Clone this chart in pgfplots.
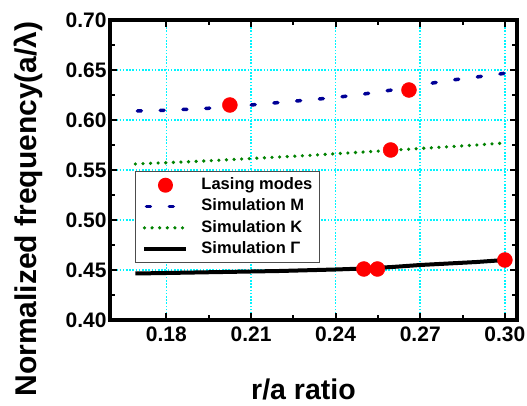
\documentclass[border=0pt]{standalone}
\usepackage{fontspec}
\setmainfont{Liberation Sans}
\usepackage{pgfplots}
\pgfplotsset{compat=1.18}

\definecolor{simM}{RGB}{0,0,150}
\definecolor{simK}{RGB}{0,130,0}
\definecolor{gridcyan}{RGB}{0,245,255}

\begin{document}
\begin{tikzpicture}
\path[use as bounding box] (-110pt,-86pt) rectangle (417pt,320pt);
\begin{axis}[
  at={(0pt,0pt)}, anchor=south west,
  scale only axis,
  width=407pt, height=300pt,
  xmin=0.16, xmax=0.3043,
  ymin=0.40, ymax=0.70,
  xtick={0.18,0.21,0.24,0.27,0.30},
  ytick={0.40,0.45,0.50,0.55,0.60,0.65,0.70},
  minor x tick num=1,
  minor y tick num=1,
  tick align=inside,
  major tick length=7pt,
  minor tick length=5pt,
  every tick/.style={black, line width=2pt},
  axis line style={line width=4.5pt},
  grid=major,
  major grid style={gridcyan, line width=1.6pt, dash pattern=on 1.6pt off 1.6pt},
  /pgf/number format/assume math mode=true,
  /pgf/number format/fixed,
  /pgf/number format/fixed zerofill,
  /pgf/number format/precision=2,
  ticklabel style={font=\fontsize{21}{24}\selectfont\bfseries},
  xticklabel style={yshift=-3pt},
  xlabel={r/a ratio},
  ylabel={Normalized frequency(a/λ)},
  xlabel style={font=\fontsize{28.5}{32}\selectfont\bfseries, at={(axis description cs:0.4754,-0.265)}, anchor=base},
  ylabel style={font=\fontsize{30}{34}\selectfont\bfseries, at={(axis description cs:-0.1794,0.37)}, anchor=base},
  legend cell align=left,
  legend style={
    at={(axis description cs:0.0614,0.4967)}, anchor=north west,
    font=\fontsize{16.5}{19}\selectfont\bfseries,
    draw=black!70, line width=1pt,
    inner xsep=7pt, inner ysep=6pt,
    row sep=5.8pt, column sep=13pt,
    nodes={inner sep=0pt, text height=12pt, text depth=3.5pt},
  },
  legend image code/.code={\draw[#1] (0pt,0pt) -- (42pt,0pt);},
]

% measured lasing modes
\addplot[only marks, mark=*, mark size=7.5pt, color=red, draw=none,
  legend image code/.code={\draw[draw=none] (0pt,0pt) -- (42pt,0pt); \fill[red] (21pt,0pt) circle (7.5pt);}]
  coordinates {
    (0.2025,0.615) (0.2660,0.630) (0.2595,0.570)
    (0.2500,0.451) (0.2548,0.451) (0.3000,0.460)
  };
\addlegendentry{Lasing modes}

% simulated band edge at M
\addplot[simM, line width=3.5pt, line cap=round, dash pattern=on 4pt off 18.8pt, dash phase=-2pt]
  coordinates {
    (0.169,0.6090) (0.180,0.6098) (0.190,0.6110) (0.200,0.6125)
    (0.210,0.6150) (0.220,0.6175) (0.230,0.6200) (0.240,0.6225)
    (0.250,0.6260) (0.260,0.6300) (0.270,0.6350) (0.280,0.6395)
    (0.290,0.6430) (0.300,0.6467)
  };
\addlegendentry{Simulation M}

% simulated band edge at K
\addplot[simK, line width=3.6pt, line cap=round, dash pattern=on 0pt off 7.6pt]
  coordinates {
    (0.169,0.5560) (0.190,0.5585) (0.210,0.5615) (0.230,0.5645)
    (0.250,0.5680) (0.270,0.5715) (0.290,0.5750) (0.300,0.5770)
  };
\addlegendentry{Simulation K}

% simulated band edge at Gamma
\addplot[black, line width=4pt]
  coordinates {
    (0.169,0.4465) (0.180,0.4470) (0.200,0.4480) (0.220,0.4490)
    (0.240,0.4505) (0.250,0.4515) (0.260,0.4530) (0.270,0.4550)
    (0.280,0.4565) (0.290,0.4580) (0.300,0.4600)
  };
\addlegendentry{Simulation Γ}

\end{axis}
\end{tikzpicture}
\end{document}
